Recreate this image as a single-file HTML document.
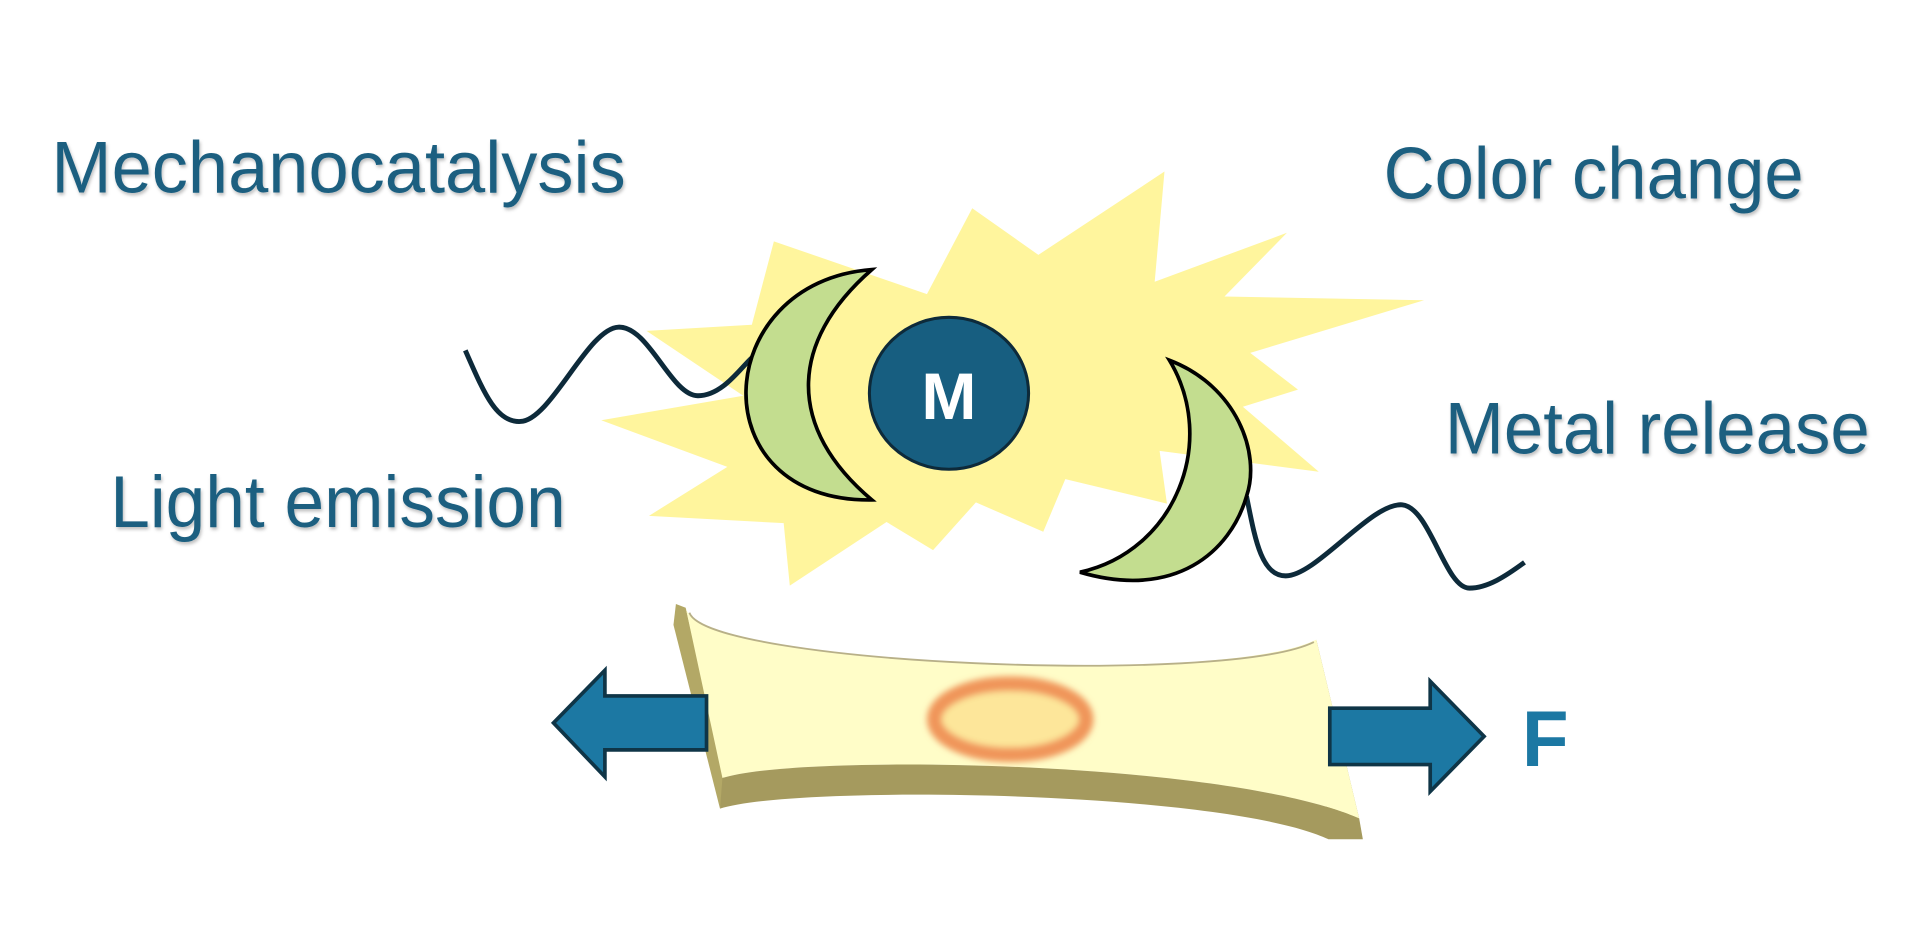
<!DOCTYPE html>
<html><head><meta charset="utf-8"><style>
html,body{margin:0;padding:0;background:#fff;width:1920px;height:941px;overflow:hidden}
svg{display:block}
text{font-family:"Liberation Sans",sans-serif;fill:#1b5f80}
</style></head><body>
<svg width="1920" height="941" viewBox="0 0 1568 768" preserveAspectRatio="none" xmlns="http://www.w3.org/2000/svg">
<defs>
<filter id="b" x="-30%" y="-30%" width="160%" height="160%"><feGaussianBlur stdDeviation="2.5"/></filter>
<filter id="s" x="-5%" y="-20%" width="110%" height="140%"><feDropShadow dx="1" dy="2" stdDeviation="1.2" flood-color="#000" flood-opacity="0.25"/></filter>
</defs>
<g filter="url(#s)">
<text x="42" y="157" font-size="60" textLength="469" lengthAdjust="spacingAndGlyphs">Mechanocatalysis</text>
<text x="1130" y="162" font-size="60" textLength="343" lengthAdjust="spacingAndGlyphs">Color change</text>
<text x="1180" y="370" font-size="60" textLength="347" lengthAdjust="spacingAndGlyphs">Metal release</text>
<text x="90" y="430" font-size="60" textLength="372" lengthAdjust="spacingAndGlyphs">Light emission</text>
</g>
<text x="1243" y="625" font-size="64" font-weight="bold" textLength="38" lengthAdjust="spacingAndGlyphs" style="fill:#1c78a3">F</text>
<polygon fill="#fff59d" points="632,197 757,240 794,170 848,208 951,140 943,230 1051,190 1000,242 1163,245 1021,288 1060,318 1015,332 1077,385 947,368 953,411 870,391 852,434 797,410 762,449 724,426 645,478 640,427 530,421 594,381 491,343 607,323 528,270 614,265"/>
<path d="M380,286 C395,320 405,345 425,344 C450,343 480,268 505,267 C530,266 548,323 570,323 C590,323 605,300 614,292" fill="none" stroke="#0d2a3a" stroke-width="4"/>
<path d="M1018,405 C1025,440 1030,470 1050,470 C1075,470 1120,410 1145,412 C1168,414 1180,480 1200,480 C1215,480 1230,470 1245,459" fill="none" stroke="#0d2a3a" stroke-width="4"/>
<path d="M712,220 C580,230 570,410 712,408 C643,350 643,280 712,220 Z" fill="#c3dd8f" stroke="#000" stroke-width="3"/>
<path d="M955,294 C1010,315 1030,370 1018,405 C1005,450 960,490 882,467 C960,450 995,360 955,294 Z" fill="#c3dd8f" stroke="#000" stroke-width="3"/>
<ellipse cx="775" cy="321" rx="65" ry="62" fill="#175e80" stroke="#0d2a3a" stroke-width="2.5"/>
<text x="775" y="342" font-size="54" font-weight="bold" text-anchor="middle" style="fill:#fff">M</text>
<path d="M550,510 L552,493 L560,496 L592,636 L588,660 Z" fill="#b3a866"/>
<path d="M1075,522 L1110,668 L1113,685 L1085,685 L1083,665 Z" fill="#a59a5e"/>
<path d="M560,496 C570,545 1000,560 1075,522 L1110,668 C1000,620 650,615 590,635 Z" fill="#fffdc8"/>
<path d="M563,500 C578,542 1000,560 1073,524" fill="none" stroke="#b8b088" stroke-width="1.5"/>
<path d="M590,635 C650,615 1000,620 1110,668 L1085,685 C1000,645 650,640 588,660 Z" fill="#a59a5e"/>
<ellipse cx="825" cy="587" rx="62" ry="29" fill="#fde69a" stroke="#f0955a" stroke-width="12" filter="url(#b)"/>
<polygon points="452,590 494,547 494,568 577,568 577,612 494,612 494,634" fill="#1c78a3" stroke="#0f3547" stroke-width="3"/>
<polygon points="1086,578 1168,578 1168,556 1212,601 1168,646 1168,624 1086,624" fill="#1c78a3" stroke="#0f3547" stroke-width="3"/>
</svg>
</body></html>
